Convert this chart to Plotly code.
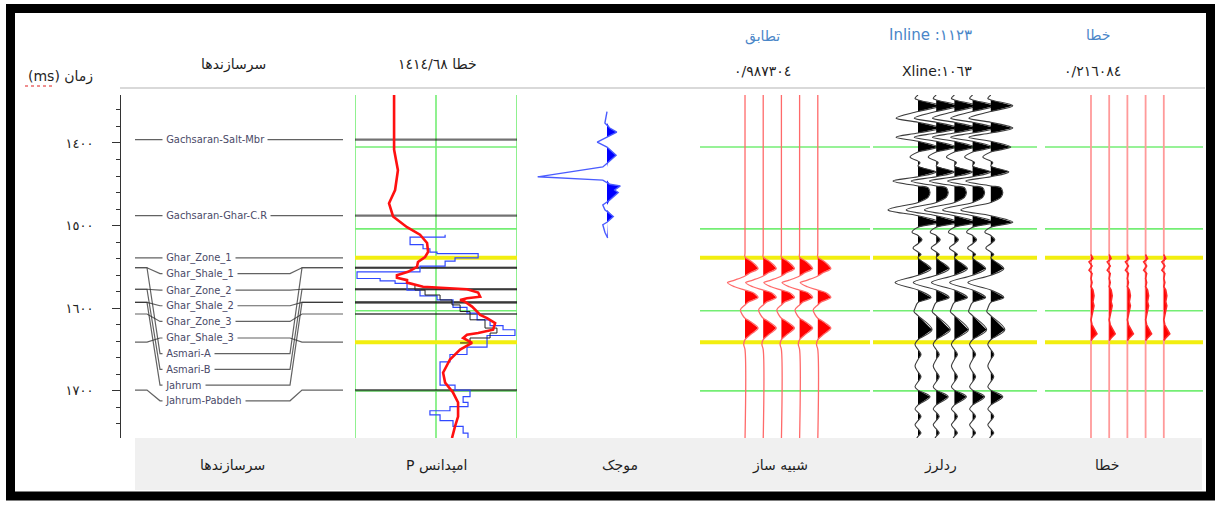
import plotly.graph_objects as go

W, H = 1216, 505


def px(x):
    return x / W


def py(y):
    return 1 - y / H


# ---------------- data ----------------
time_range = [1757, 1342]
tick_vals = [1400, 1500, 1600, 1700]
tick_text = ["١٤٠٠", "١٥٠٠", "١٦٠٠", "١٧٠٠"]

formation_names = ["Gachsaran-Salt-Mbr", "Gachsaran-Ghar-C.R", "Ghar_Zone_1", "Ghar_Shale_1",
                   "Ghar_Zone_2", "Ghar_Shale_2", "Ghar_Zone_3", "Ghar_Shale_3",
                   "Asmari-A", "Asmari-B", "Jahrum", "Jahrum-Pabdeh"]
formation_time = [1396, 1488, 1539, 1551, 1577, 1593, 1607, 1641, 1551, 1577, 1593, 1699]
formation_label_time = [1396, 1488, 1539, 1558, 1578, 1597, 1616, 1636, 1655, 1674, 1693, 1712]
picked_horizons = ["Ghar_Zone_1", "Ghar_Shale_3"]
marker_time = [1405, 1504, 1603, 1700]

imp_smooth_time = [1342, 1408, 1433, 1457, 1473, 1489, 1502, 1511, 1521, 1532, 1538, 1544, 1550,
                   1556, 1560, 1563, 1566, 1569, 1574, 1577, 1581, 1586, 1588, 1590, 1592, 1598,
                   1604, 1608, 1612, 1618, 1626, 1630, 1632, 1636, 1642, 1650, 1662, 1678, 1690,
                   1702, 1714, 1731, 1743, 1757]
imp_smooth_val = [6930, 6930, 7120, 6980, 6680, 6880, 7570, 8210, 8560, 8610, 8460, 8110, 8060,
                  7620, 7070, 7070, 7570, 7570, 8360, 10530, 11080, 11180, 10530, 10190, 10430,
                  10780, 11030, 11180, 11520, 11920, 11820, 11080, 10530, 10340, 10780, 10190,
                  9690, 9350, 9450, 9840, 10090, 10090, 9940, 9790]

imp_log_time = [1511, 1514, 1523, 1528, 1532, 1534, 1539, 1543, 1549, 1556, 1564, 1567, 1570,
                1578, 1585, 1590, 1599, 1606, 1614, 1621, 1626, 1633, 1643, 1647, 1656, 1665,
                1680, 1693, 1699, 1707, 1714, 1719, 1724, 1729, 1736, 1743, 1751, 1759]
imp_log_val = [9450, 7720, 8360, 8700, 9050, 11080, 9940, 9450, 8210, 5100, 6240, 6980, 7570,
               8210, 9050, 9840, 10530, 11030, 11670, 12310, 12900, 11520, 11520, 10530, 9690,
               9200, 9200, 9940, 10680, 10340, 10580, 9690, 8700, 9200, 9840, 10340, 10580, 9840]

imp_mid_time = [1572, 1578, 1584, 1590, 1596, 1604, 1614, 1624, 1630, 1636, 1642]
imp_mid_val = [7960, 8460, 9200, 9790, 10190, 10680, 11420, 12010, 11670, 10680, 10190]

wavelet_center = 1441
wavelet_lag = [-79, -65, -59, -54, -48, -42, -36, -26, -17, -12, 0, 4, 9, 11, 16, 19, 28, 34,
               40, 48, 55, 58, 67, 74]
wavelet_amp = [0, -0.03, 0.04, 0.14, 0, -0.14, 0, 0.13, 0.01, -0.06, -0.99, -0.06, 0.04, 0.19,
               0.11, 0.16, 0.04, -0.06, -0.03, 0.09, 0, -0.06, -0.03, 0.01]

trace_index = [1, 2, 3, 4, 5]

syn_time = [1342, 1533, 1538, 1544, 1552, 1557, 1561, 1566, 1569, 1574, 1578, 1581, 1587, 1592,
            1596, 1602, 1608, 1612, 1616, 1624, 1631, 1638, 1644, 1650, 1759]
syn_amp = [0, 0, 0, 0.54, 1.0, 0.4, 0, -0.8, -1.35, -0.8, 0, 0.6, 1.0, 0.3, 0, -0.35, -0.2, 0,
           0.4, 1.0, 0.5, 0, -0.1, 0, 0]

seis_time = [1342, 1346, 1348, 1355, 1362, 1370, 1375, 1382, 1388, 1393, 1398, 1405, 1411, 1417,
             1422, 1424, 1428, 1435, 1441, 1446, 1452, 1454, 1460, 1466, 1472, 1481, 1488, 1496,
             1502, 1508, 1512, 1517, 1522, 1527, 1532, 1535, 1539, 1552, 1560, 1569, 1578, 1587,
             1593, 1600, 1604, 1609, 1626, 1638, 1644, 1650, 1656, 1662, 1670, 1677, 1683, 1689,
             1695, 1699, 1707, 1717, 1722, 1726, 1731, 1736, 1741, 1746, 1751, 1755, 1759]
seis_amp = [0, -0.15, 0, 1.1, 0, -1.1, 0, 1.1, 0, -1.1, 0, 1.0, 0, -0.4, 0, 0.1, 0, 0.9, 0,
            -1.25, 0, 0.5, 0.6, 0.5, 0, -1.5, 0, 1.1, 0, -0.3, 0, 0.2, 0, -0.25, 0, 0.15, 0,
            0.65, 0, -1.15, 0, 0.65, 0, -0.15, -0.2, 0, 0.7, 0, -0.15, 0, 0.15, 0, -0.15, 0,
            0.15, 0, -0.15, 0, 0.6, 0, -0.15, 0, 0.15, 0, -0.15, 0, 0.15, 0, -0.1]

err_time = [1535, 1540, 1544, 1549, 1554, 1558, 1564, 1569, 1574, 1578, 1585, 1592, 1597,
            1604, 1609, 1614, 1620, 1626, 1631, 1636, 1639]
err_amp = [0, 0.15, -0.15, 0.08, -0.15, 0.08, 0, 0.08, 0, 0.15, 0.23, 0.15, 0.23, 0.15, 0.08,
           0, 0.08, 0.3, 0.46, 0.15, 0]

header_texts = {
    "formations": "سرسازندها",
    "imp_error": "خطا ١٤١٤/٦٨",
    "match": "تطابق",
    "match_val": "٠/٩٨٧٣٠٤",
    "inline": "Inline :١١٢٣",
    "xline": "Xline:١٠٦٣",
    "error": "خطا",
    "error_val": "٠/٢١٦٠٨٤",
}
footer_labels = ["سرسازندها", "P امپدانس", "موجک", "شبیه ساز", "ردلرز", "خطا"]

# ---------------- figure ----------------
fig = go.Figure()

ARABIC_FONT = "DejaVu Sans"
GREEN = "#74ee74"
YELLOW = "#f2ee10"
NBSP = "\u00a0"


def wiggle(xaxis, base, gain, times, amps, line_color, fill_color, line_width=1.0,
           shape="linear"):
    fx = [base] + [base + gain * max(a, 0) for a in amps] + [base]
    fy = [times[0]] + list(times) + [times[-1]]
    fig.add_trace(go.Scatter(x=fx, y=fy, xaxis=xaxis, yaxis="y", mode="lines",
                             fill="toself", fillcolor=fill_color, line=dict(width=0),
                             hoverinfo="skip", showlegend=False))
    fig.add_trace(go.Scatter(x=[base + gain * a for a in amps], y=times, xaxis=xaxis, yaxis="y",
                             mode="lines",
                             line=dict(color=line_color, width=line_width, shape=shape),
                             hoverinfo="skip", showlegend=False))


# formation panel: tops with label offsets
fpos = [(p - 122) / 223 for p in (135, 147, 160, 290, 302, 343)]
for name, tt, tl in zip(formation_names, formation_time, formation_label_time):
    fig.add_trace(go.Scatter(x=fpos, y=[tt, tt, tl, tl, tt, tt], xaxis="x", yaxis="y",
                             mode="lines", line=dict(color="rgba(45,45,45,0.75)", width=1.2),
                             hoverinfo="skip", showlegend=False))
    fig.add_annotation(x=(162 - 122) / 223, y=tl, xref="x", yref="y",
                       text=NBSP + name + NBSP, showarrow=False, xanchor="left",
                       yanchor="middle",
                       font=dict(family="DejaVu Sans Condensed", size=11, color="#4a4a68"),
                       bgcolor="white", borderpad=0)

# impedance panel: grid, horizons, curves
for xv in (5000, 9000, 13000):
    fig.add_shape(type="line", xref="x2", yref="y domain", x0=xv, x1=xv, y0=0, y1=1,
                  line=dict(color=GREEN, width=1.6), layer="below")
for t in marker_time:
    fig.add_shape(type="line", xref="x2 domain", yref="y", x0=0, x1=1, y0=t, y1=t,
                  line=dict(color=GREEN, width=1.6), layer="below")
for name, tt in zip(formation_names, formation_time):
    if name in picked_horizons:
        continue
    fig.add_shape(type="line", xref="x2 domain", yref="y", x0=0, x1=1, y0=tt, y1=tt,
                  line=dict(color="rgba(20,20,20,0.6)", width=2.2), layer="below")
picked_time = [formation_time[formation_names.index(n)] for n in picked_horizons]
for t in picked_time:
    fig.add_shape(type="line", xref="x2 domain", yref="y", x0=0, x1=1, y0=t, y1=t,
                  line=dict(color=YELLOW, width=4), layer="below")

fig.add_trace(go.Scatter(x=imp_log_val, y=imp_log_time, xaxis="x2", yaxis="y", mode="lines",
                         line=dict(color="#3048ff", width=1.2, shape="vh"),
                         hoverinfo="skip", showlegend=False))
fig.add_trace(go.Scatter(x=imp_mid_val, y=imp_mid_time, xaxis="x2", yaxis="y", mode="lines",
                         line=dict(color="#222222", width=1, shape="vh"),
                         hoverinfo="skip", showlegend=False))
fig.add_trace(go.Scatter(x=imp_smooth_val, y=imp_smooth_time, xaxis="x2", yaxis="y",
                         mode="lines", line=dict(color="#ff1010", width=2.6),
                         hoverinfo="skip", showlegend=False))

# wavelet panel
w_time = [wavelet_center + lag for lag in wavelet_lag]
fig.add_trace(go.Scatter(x=[max(a, 0) for a in wavelet_amp], y=w_time, xaxis="x3", yaxis="y",
                         mode="lines", fill="tozerox", fillcolor="#0000ff",
                         line=dict(width=0), hoverinfo="skip", showlegend=False))
fig.add_trace(go.Scatter(x=wavelet_amp, y=w_time, xaxis="x3", yaxis="y", mode="lines",
                         line=dict(color="#4a5cff", width=1.4),
                         hoverinfo="skip", showlegend=False))

# synthetic, seismic and error panels: horizons
for ax in ("x4", "x5", "x6"):
    for t in marker_time:
        fig.add_shape(type="line", xref=f"{ax} domain", yref="y", x0=0, x1=1, y0=t, y1=t,
                      line=dict(color=GREEN, width=1.6), layer="below")
    for t in picked_time:
        fig.add_shape(type="line", xref=f"{ax} domain", yref="y", x0=0, x1=1, y0=t, y1=t,
                      line=dict(color=YELLOW, width=4), layer="below")

SYN_GAIN = 13 / 18.2
SEIS_GAIN = 20 / 18.2
for i in trace_index:
    wiggle("x4", i, SYN_GAIN, syn_time, syn_amp, "#ff6a6a", "#ff0000", 1.3, "spline")
    wiggle("x5", i, SEIS_GAIN, seis_time, seis_amp, "#3c3c3c", "#000000", 1.1, "spline")
for i in trace_index:
    fig.add_trace(go.Scatter(x=[i, i], y=[time_range[1], time_range[0]], xaxis="x6", yaxis="y",
                             mode="lines", line=dict(color="#ff9a9a", width=1.8),
                             hoverinfo="skip", showlegend=False))
    wiggle("x6", i, SYN_GAIN, err_time, err_amp, "#ff2a2a", "#ff0000", 1.6)

# ---------------- layout ----------------
hidden = dict(visible=False, showgrid=False, zeroline=False, fixedrange=True)
layout_axes = {
    "xaxis": dict(domain=[px(122), px(345)], range=[0, 1], anchor="y", **hidden),
    "xaxis2": dict(domain=[px(355), px(517)], range=[5000, 13000], anchor="y", **hidden),
    "xaxis3": dict(domain=[px(527), px(690)], range=[-1.143, 1.186], anchor="y", **hidden),
    "xaxis4": dict(domain=[px(700), px(870)], range=[-1.473, 7.868], anchor="y", **hidden),
    "xaxis5": dict(domain=[px(873), px(1037)], range=[-1.473, 7.538], anchor="y", **hidden),
    "xaxis6": dict(domain=[px(1045), px(1203)], range=[-1.527, 7.154], anchor="y", **hidden),
}
fig.update_layout(**layout_axes)
fig.update_layout(
    yaxis=dict(domain=[py(438), py(95)], range=time_range, anchor="free", position=px(120),
               showline=True, linecolor="#333333", linewidth=1, showgrid=False, zeroline=False,
               ticks="outside", ticklen=8, tickcolor="#333333", tickmode="array",
               tickvals=tick_vals, ticktext=tick_text, ticklabelstandoff=16,
               tickfont=dict(family=ARABIC_FONT, size=13, color="#222222"),
               minor=dict(tickmode="linear", tick0=1400, dtick=20, ticks="outside",
                          ticklen=4, tickcolor="#333333")),
    width=W, height=H, margin=dict(l=0, r=0, t=0, b=0),
    paper_bgcolor="white", plot_bgcolor="rgba(0,0,0,0)", showlegend=False,
)

# page furniture: footer band, header rule, frame
fig.add_shape(type="rect", xref="paper", yref="paper", x0=px(135), x1=px(1202),
              y0=py(490), y1=py(438), fillcolor="#f0f0f0", line=dict(width=0), layer="below")
fig.add_shape(type="line", xref="paper", yref="paper", x0=px(120), x1=px(1205),
              y0=py(88), y1=py(88), line=dict(color="#cccccc", width=1.5))
fig.add_shape(type="rect", xref="paper", yref="paper", x0=px(10.5), x1=px(1210.5),
              y0=py(496), y1=py(8.5), line=dict(color="black", width=9))
fig.add_shape(type="line", xref="paper", yref="paper", x0=px(25), x1=px(52),
              y0=py(86), y1=py(86), line=dict(color="#e02020", width=1.2, dash="dot"))


def label(x, y, text, size=13, color="#1e1e1e"):
    fig.add_annotation(x=px(x), y=py(y), xref="paper", yref="paper", text=text,
                       showarrow=False, xanchor="center", yanchor="middle",
                       font=dict(family=ARABIC_FONT, size=size, color=color))


BLUE_TXT = "#4a86c8"
label(60, 76, "(ms) زمان", 14)
label(233, 64, header_texts["formations"], 14)
label(437, 64, header_texts["imp_error"], 14)
label(762, 37, header_texts["match"], 14, BLUE_TXT)
label(762, 71, header_texts["match_val"], 14)
label(930, 35, header_texts["inline"], 15, BLUE_TXT)
label(937, 71, header_texts["xline"], 14)
label(1098, 35, header_texts["error"], 14, BLUE_TXT)
label(1092, 71, header_texts["error_val"], 14)

for xc, txt in zip([232, 437, 620, 780, 940, 1107], footer_labels):
    label(xc, 465, txt, 14)

fig.write_html("out.html")
